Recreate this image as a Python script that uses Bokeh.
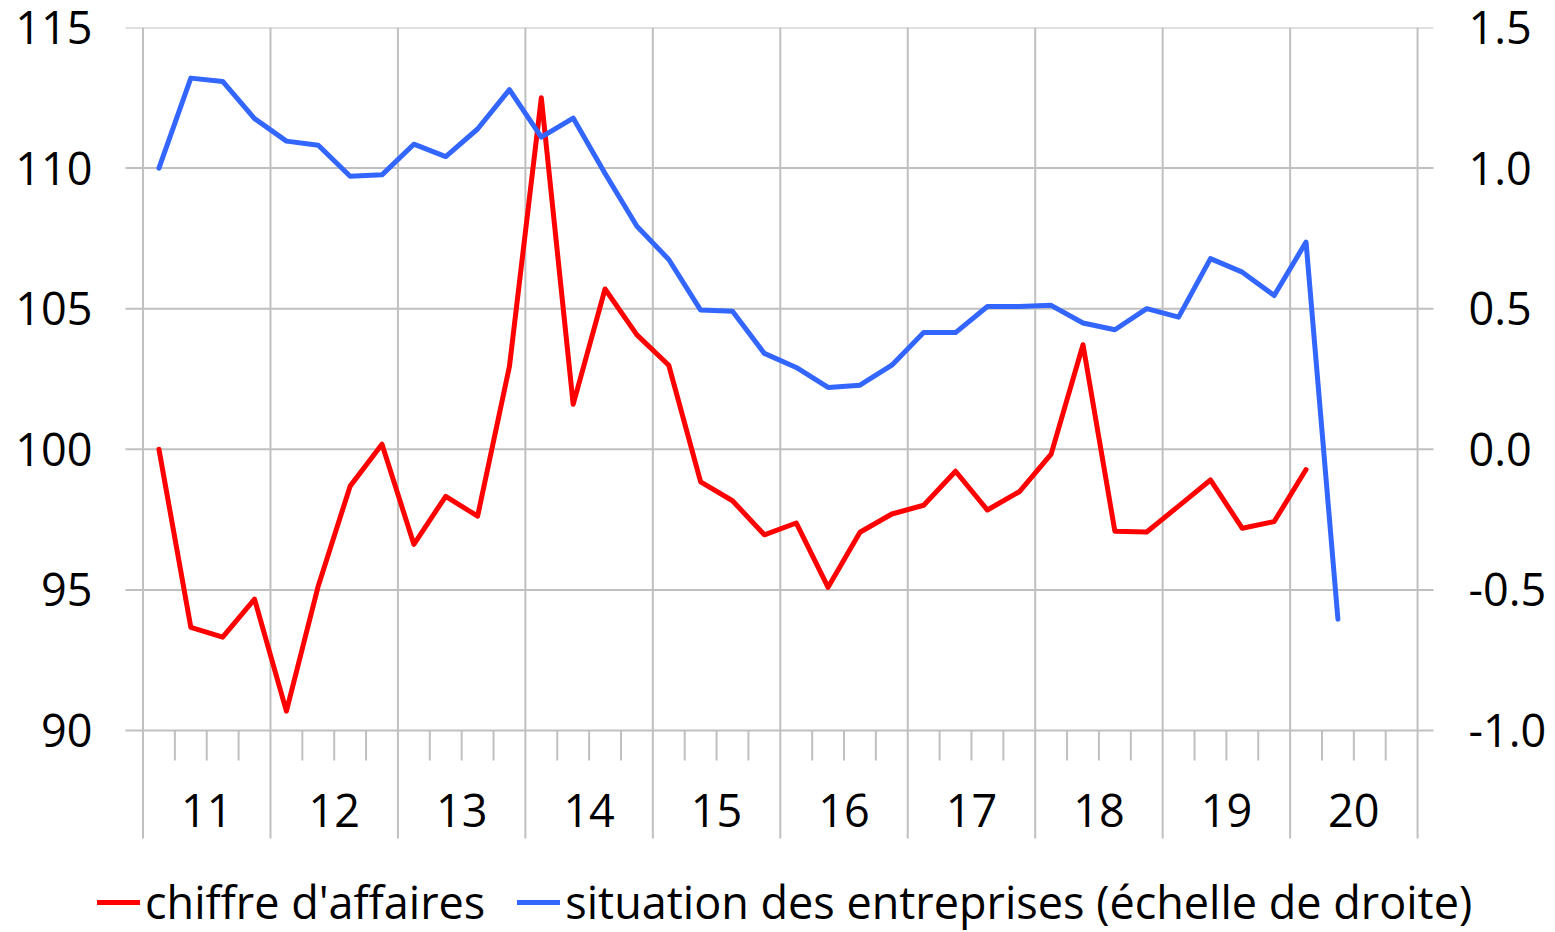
from bokeh.plotting import figure
from bokeh.models import (Range1d, LinearAxis, FixedTicker, Legend, LegendItem,
                          NumeralTickFormatter)
from bokeh.core.properties import value
from bokeh.embed import file_html
from bokeh.resources import INLINE

# ---------------- data ----------------
years = ["11", "12", "13", "14", "15", "16", "17", "18", "19", "20"]
chiffre_affaires = [100.0, 93.67, 93.32, 94.67,
                    90.69, 95.14, 98.69, 100.18,
                    96.62, 98.33, 97.62, 102.95,
                    112.5, 101.6, 105.7, 104.07,
                    102.99, 98.84, 98.17, 96.96,
                    97.38, 95.09, 97.05, 97.70,
                    98.01, 99.22, 97.84, 98.49,
                    99.83, 103.72, 97.09, 97.06,
                    97.98, 98.91, 97.19, 97.43,
                    99.28]
situation = [1.00, 1.32, 1.308, 1.176,
             1.096, 1.081, 0.971, 0.976,
             1.085, 1.041, 1.139, 1.279,
             1.110, 1.178, 0.981, 0.793,
             0.675, 0.495, 0.491, 0.341,
             0.291, 0.220, 0.228, 0.299,
             0.415, 0.415, 0.508, 0.508,
             0.512, 0.449, 0.425, 0.500,
             0.470, 0.678, 0.630, 0.547,
             0.737, -0.604]
left_ticks = [90, 95, 100, 105, 110, 115]
right_ticks = [-1.0, -0.5, 0.0, 0.5, 1.0, 1.5]
label_ca = "chiffre d'affaires"
label_sit = "situation des entreprises (échelle de droite)"

# ---------------- layout constants ----------------
FONT = "Open Sans"
FS = "45px"
TXT = "#000000"
GRID = "#C0C0C0"
RED = "#FF0000"
BLUE = "#3366FF"
Q = 4  # quarters per year
n_q = len(years) * Q

W, H = 1555, 932
FRAME_L, FRAME_R, FRAME_T, FRAME_B = 95, 1472, 27, 932   # pixel edges of frame
PLOT_L, PLOT_R = 125, 1433                               # drawn plot area
QPX = (PLOT_R - PLOT_L) / (n_q + 1.05)                   # px per quarter
px_per_unit = 703.0 / 25.0                               # px per left-axis unit

x_plot_lo, x_plot_hi = -0.55, n_q + 0.5
x_lo = x_plot_lo - (PLOT_L - FRAME_L) / QPX
x_hi = x_plot_hi + (FRAME_R - PLOT_R) / QPX
y_hi = 115
y_lo = y_hi - (FRAME_B - FRAME_T) / px_per_unit
r_lo = (y_lo - 100) / 10.0
r_hi = (y_hi - 100) / 10.0

p = figure(width=W, height=H, output_backend="svg", toolbar_location=None,
           x_range=Range1d(x_lo, x_hi), y_range=Range1d(y_lo, y_hi),
           x_axis_location=None, min_border_top=FRAME_T,
           min_border_left=FRAME_L, min_border_right=W - FRAME_R,
           min_border_bottom=H - FRAME_B,
           background_fill_color="white", border_fill_color="white")
p.outline_line_color = None
p.extra_y_ranges = {"right": Range1d(r_lo, r_hi)}


def style_axis(a, standoff):
    a.axis_line_color = None
    a.major_tick_line_color = None
    a.minor_tick_line_color = None
    a.major_tick_out = 0
    a.major_tick_in = 0
    a.minor_tick_out = 0
    a.minor_tick_in = 0
    a.major_label_text_font = FONT
    a.major_label_text_font_size = FS
    a.major_label_text_color = TXT
    a.major_label_standoff = standoff


ax = p.yaxis[0]
ax.ticker = FixedTicker(ticks=left_ticks)
style_axis(ax, 3)

rax = LinearAxis(y_range_name="right", ticker=FixedTicker(ticks=right_ticks),
                 formatter=NumeralTickFormatter(format="0.0"))
style_axis(rax, -4)
p.add_layout(rax, "right")

p.xgrid.visible = False
p.ygrid.visible = False

# horizontal gridlines at the value ticks, across the plot area
p.segment(x0=[x_plot_lo] * len(left_ticks), x1=[x_plot_hi] * len(left_ticks),
          y0=left_ticks, y1=left_ticks, line_color=GRID, line_width=2)

# category axis drawn by hand: year separators, quarter ticks, labels
y_axis_base = left_ticks[0]
qtick_bottom = y_axis_base - 30 / px_per_unit
year_line_bottom = y_axis_base - 108 / px_per_unit
bx = [i * Q for i in range(len(years) + 1)]
p.segment(x0=bx, x1=bx, y0=[y_hi] * len(bx), y1=[year_line_bottom] * len(bx),
          line_color=GRID, line_width=2)
qx = [i for i in range(n_q + 1) if i % Q != 0]
p.segment(x0=qx, x1=qx, y0=[y_axis_base] * len(qx), y1=[qtick_bottom] * len(qx),
          line_color=GRID, line_width=2)
ycx = [i * Q + Q / 2 for i in range(len(years))]
p.text(x=ycx, y=[y_axis_base - 80 / px_per_unit] * len(years), text=years,
       text_font=value(FONT), text_font_size=FS, text_color=TXT,
       text_align="center", text_baseline="middle")

# series
x_ca = [i + 0.5 for i in range(len(chiffre_affaires))]
x_sit = [i + 0.5 for i in range(len(situation))]
r1 = p.line(x_ca, chiffre_affaires, line_color=RED, line_width=5,
            line_join="round", line_cap="round")
r2 = p.line(x_sit, situation, y_range_name="right", line_color=BLUE,
            line_width=5, line_join="round", line_cap="round")

legend = Legend(items=[LegendItem(label=label_ca, renderers=[r1]),
                       LegendItem(label=label_sit, renderers=[r2])],
                orientation="horizontal", location=(2, 0),
                glyph_width=43, glyph_height=20, label_standoff=5, spacing=32,
                padding=0, margin=0, border_line_alpha=0,
                background_fill_alpha=0,
                label_text_font=FONT, label_text_font_size=FS,
                label_text_color=TXT)
p.add_layout(legend, "center")

open("out.html", "w").write(file_html(p, INLINE))
